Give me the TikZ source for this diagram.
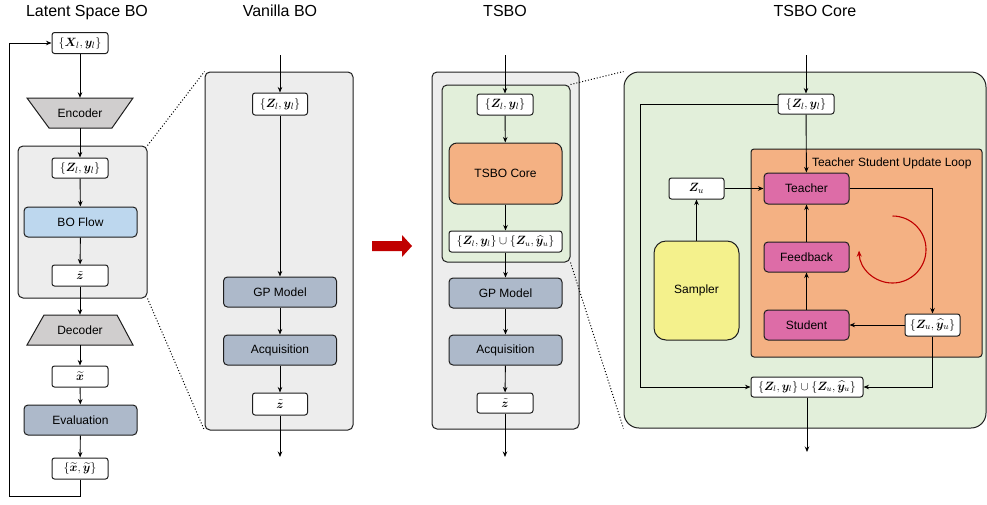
\documentclass[tikz,border=0pt]{standalone}
\usepackage{amsmath,bm}
\usepackage{fontspec}
\setmainfont{Liberation Sans}
\usetikzlibrary{arrows.meta}
\definecolor{panelgray}{HTML}{EDEDED}
\definecolor{trapgray}{HTML}{D0CECE}
\definecolor{boblue}{HTML}{BDD7EE}
\definecolor{slate}{HTML}{ADB9CA}
\definecolor{corange}{HTML}{F4B183}
\definecolor{cgreen}{HTML}{E2EFDA}
\definecolor{cpink}{HTML}{DD6CA7}
\definecolor{cyellow}{HTML}{F4F18C}
\definecolor{cred}{HTML}{C00000}
\definecolor{edge}{HTML}{1E1E1E}
\tikzset{
  lbl/.style={font=\fontsize{12}{14}\selectfont},
  ttl/.style={font=\fontsize{16}{19}\selectfont, anchor=base},
  mbox/.style={draw=edge, fill=white, line width=1pt, rounded corners=2.5pt, inner sep=0pt,
    minimum width=56pt, minimum height=21pt, font=\fontsize{12.5}{14}\selectfont},
  ubox/.style={mbox, font=\fontsize{11.5}{13}\selectfont},
  fbox/.style={draw=edge, line width=1pt, rounded corners=4pt, inner sep=0pt,
    minimum width=113pt, minimum height=30pt, font=\fontsize{12}{14}\selectfont},
  pbox/.style={fbox, fill=cpink, minimum width=85pt, minimum height=30pt},
  panel/.style={draw=edge, line width=1pt, rounded corners=5pt, fill=panelgray, inner sep=0pt},
  arr/.style={-{Stealth[length=5.5pt,width=4.5pt]}, line width=0.9pt, draw=black},
  zoomline/.style={dotted, line width=1pt},
}
\begin{document}
\begin{tikzpicture}[x=1pt,y=-1pt]
\useasboundingbox (0,0) rectangle (987,504);

% titles
\node[ttl] (t1) at (87,16) {Latent Space BO};
\node[ttl] (t2) at (280,16) {Vanilla BO};
\node[ttl] (t3) at (505,16) {TSBO};
\node[ttl] (t4) at (815,16) {TSBO Core};

% ---------- Latent space BO ----------
\node[panel, minimum width=129pt, minimum height=152pt] (p1) at (82.5,222) {};
\node[mbox] (X) at (80,43) {$\{\bm{X}_l,\bm{y}_l\}$};
\fill[trapgray] (27,98) -- (133,98) -- (112,128) -- (49,128) -- cycle;
\draw[edge, line width=1pt] (27,98) -- (133,98) -- (112,128) -- (49,128) -- cycle;
\node[lbl, minimum width=62pt, minimum height=30pt, inner sep=0pt] (enc) at (80,113) {Encoder};
\node[mbox, minimum height=20pt] (Z1) at (80,168) {$\{\bm{Z}_l,\bm{y}_l\}$};
\node[fbox, fill=boblue] (bof) at (80.5,222) {BO Flow};
\node[mbox] (zt1) at (80,275.5) {$\tilde{\bm{z}}$};
\fill[trapgray] (44,315) -- (117,315) -- (133,345) -- (27,345) -- cycle;
\draw[edge, line width=1pt] (44,315) -- (117,315) -- (133,345) -- (27,345) -- cycle;
\node[lbl, minimum width=73pt, minimum height=30pt, inner sep=0pt] (dec) at (80,330) {Decoder};
\node[mbox] (xt) at (80,376.5) {$\widetilde{\bm{x}}$};
\node[fbox, fill=slate] (ev) at (80.5,420) {Evaluation};
\node[mbox] (xy) at (80,468.5) {$\{\widetilde{\bm{x}},\widetilde{\bm{y}}\}$};
\coordinate (lb) at (9,496);
\draw[arr] (X) -- (enc);
\draw[arr] (enc) -- (Z1);
\draw[arr] (Z1) -- (bof);
\draw[arr] (bof) -- (zt1);
\draw[arr] (zt1) -- (dec);
\draw[arr] (dec) -- (xt);
\draw[arr] (xt) -- (ev);
\draw[arr] (ev) -- (xy);
\draw[arr] (xy.south) |- (lb) |- (X.west);

% ---------- Vanilla BO ----------
\node[panel, minimum width=148pt, minimum height=358pt] (pv) at (279,251) {};
\coordinate (v0) at (280,55);
\coordinate (v1) at (280,457);
\node[mbox, minimum width=55pt, minimum height=22pt] (vz) at (280,104) {$\{\bm{Z}_l,\bm{y}_l\}$};
\node[fbox, fill=slate] (vgp) at (280,292) {GP Model};
\node[fbox, fill=slate] (vacq) at (280,350) {Acquisition};
\node[mbox, minimum width=55pt, minimum height=22pt] (vzt) at (280,404) {$\tilde{\bm{z}}$};
\draw[arr] (v0) -- (vz);
\draw[arr] (vz) -- (vgp);
\draw[arr] (vgp) -- (vacq);
\draw[arr] (vacq) -- (vzt);
\draw[arr] (vzt) -- (v1);

\draw[zoomline] (p1.north east) -- (pv.north west);
\draw[zoomline] (p1.south east) -- (pv.south west);

% big red arrow
\fill[cred] (372,241) -- (402,241) -- (402,235) -- (412,246) -- (402,257) -- (402,251) -- (372,251) -- cycle;

% ---------- TSBO ----------
\node[panel, minimum width=147pt, minimum height=357pt] (tg) at (505.5,250.5) {};
\node[panel, fill=cgreen, minimum width=128pt, minimum height=177pt] (tgr) at (506,173.5) {};
\coordinate (s0) at (505,55);
\coordinate (s1) at (505,457);
\node[mbox] (tz) at (505,104.5) {$\{\bm{Z}_l,\bm{y}_l\}$};
\node[fbox, fill=corange, minimum height=61pt, rounded corners=8pt] (tcore) at (505.5,173.5) {TSBO Core};
\node[ubox, minimum width=113pt] (tu) at (505.5,241.5) {$\{\bm{Z}_l,\bm{y}_l\}\cup\{\bm{Z}_u,\widehat{\bm{y}}_u\}$};
\node[fbox, fill=slate] (tgp) at (505.5,293) {GP Model};
\node[fbox, fill=slate] (tacq) at (505.5,350) {Acquisition};
\node[mbox, minimum height=20pt] (tzt) at (505,403) {$\tilde{\bm{z}}$};
\draw[arr] (s0) -- (tz);
\draw[arr] (tz) -- (tcore);
\draw[arr] (tcore) -- (tu);
\draw[arr] (tu) -- (tgp);
\draw[arr] (tgp) -- (tacq);
\draw[arr] (tacq) -- (tzt);
\draw[arr] (tzt) -- (s1);

% ---------- TSBO Core ----------
\node[panel, fill=cgreen, rounded corners=15pt, minimum width=362pt, minimum height=356pt] (pc) at (805,250) {};
\draw[zoomline] (tgr.north east) -- (pc.north west);
\draw[zoomline] (tgr.south east) -- (pc.south west);
\node[panel, fill=corange, rounded corners=3pt, minimum width=231pt, minimum height=208pt] (loop) at (866.5,253) {};
\node[lbl, anchor=base east] (looplbl) at (975,166) {Teacher Student Update Loop};

\coordinate (c0) at (806,55);
\coordinate (c1) at (807,452);
\coordinate (cl) at (640,387);
\node[mbox, minimum height=20pt] (cz) at (806,104) {$\{\bm{Z}_l,\bm{y}_l\}$};
\node[pbox, minimum height=31pt] (teacher) at (806.5,188.5) {Teacher};
\node[mbox, minimum width=55pt] (zu) at (696.5,188.5) {$\bm{Z}_u$};
\node[fbox, fill=cyellow, minimum width=85pt, minimum height=99pt, rounded corners=12pt] (sampler) at (696.5,290.5) {Sampler};
\node[pbox] (feedback) at (806.5,257) {Feedback};
\node[pbox] (student) at (806.5,325) {Student};
\node[mbox, minimum width=55pt, minimum height=22pt] (zy) at (932.5,325) {$\{\bm{Z}_u,\widehat{\bm{y}}_u\}$};
\node[ubox, minimum width=112pt, minimum height=20pt] (cu) at (807,387) {$\{\bm{Z}_l,\bm{y}_l\}\cup\{\bm{Z}_u,\widehat{\bm{y}}_u\}$};

\draw[arr] (c0) -- (cz);
\draw[arr] (cz) -- (teacher);
\draw[arr] (cz.west) -| (cl) -- (cu.west);
\draw[arr] (zu) -- (teacher);
\draw[arr] (sampler) -- (zu);
\draw[arr] (feedback) -- (teacher);
\draw[arr] (student) -- (feedback);
\draw[arr] (teacher.east) -| (zy.north);
\draw[arr] (zy.west) -- (student.east);
\draw[arr] (zy.south) |- (cu.east);
\draw[arr] (cu) -- (c1);

\draw[cred, line width=1.1pt, -{Stealth[length=6pt,width=5pt]}] (892.5,216) arc[start angle=-90, end angle=178, radius=33.5];
\end{tikzpicture}
\end{document}
